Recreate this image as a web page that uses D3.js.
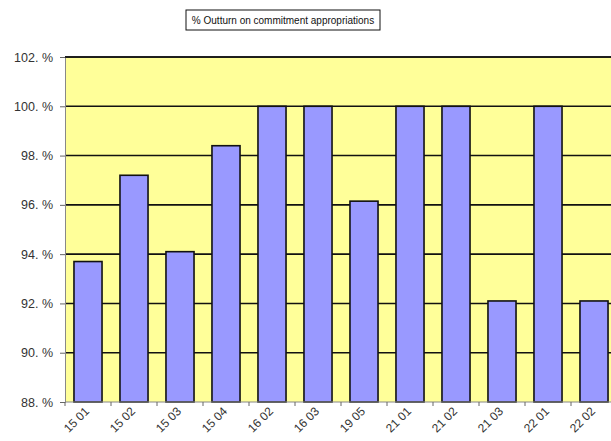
<!DOCTYPE html>
<html>
<head>
<meta charset="utf-8">
<script src="https://cdn.jsdelivr.net/npm/d3@7"></script>
<style>
  html, body { margin: 0; padding: 0; background: #fff; }
  svg { display: block; font-family: "Liberation Sans", Arial, sans-serif; }
</style>
</head>
<body>
<svg id="chart" width="611" height="441"></svg>
<script>
// Budget lines and the share of commitment appropriations used (%)
const categories = ["15 01", "15 02", "15 03", "15 04", "16 02", "16 03", "19 05", "21 01", "21 02", "21 03", "22 01", "22 02"];
const outturn = [93.7, 97.2, 94.1, 98.4, 100.0, 100.0, 96.15, 100.0, 100.0, 92.1, 100.0, 92.1];
const yTicks = [88, 90, 92, 94, 96, 98, 100, 102];
const yTickLabels = ["88. %", "90. %", "92. %", "94. %", "96. %", "98. %", "100. %", "102. %"];
const title = "% Outturn on commitment appropriations";

const svg = d3.select("#chart");
const plot = { left: 65, top: 57, right: 617, bottom: 402 };

const x = d3.scaleBand().domain(categories).range([plot.left, plot.right]).paddingInner(0.39).paddingOuter(0.195);
const y = d3.scaleLinear().domain([88, 102]).range([plot.bottom, plot.top]);

// Plot background
svg.append("rect")
  .attr("x", plot.left).attr("y", plot.top)
  .attr("width", plot.right - plot.left).attr("height", plot.bottom - plot.top)
  .attr("fill", "#ffff99");

// Horizontal gridlines
svg.append("g").selectAll("line")
  .data(yTicks.filter(d => d > 88))
  .join("line")
  .attr("x1", plot.left).attr("x2", plot.right)
  .attr("y1", d => y(d)).attr("y2", d => y(d))
  .attr("stroke", "#111").attr("stroke-width", 1.6);

// Bars
svg.append("g").selectAll("rect")
  .data(categories.map((c, i) => ({ c, v: outturn[i] })))
  .join("rect")
  .attr("x", d => x(d.c))
  .attr("width", x.bandwidth())
  .attr("y", d => y(d.v))
  .attr("height", d => y(88) - y(d.v))
  .attr("fill", "#9999ff")
  .attr("stroke", "#111")
  .attr("stroke-width", 1.6);

// Y axis
const yAxis = d3.axisLeft(y).tickValues(yTicks)
  .tickFormat((d, i) => yTickLabels[i]).tickSize(5).tickPadding(7);
const gy = svg.append("g").attr("transform", `translate(${plot.left},0)`).call(yAxis);
gy.select(".domain").attr("stroke", "#888").attr("stroke-width", 1);
gy.selectAll(".tick line").attr("stroke", "#666");
gy.selectAll(".tick text").attr("fill", "#333").attr("font-size", 12.5);

// X axis: ticks on category boundaries
const bounds = d3.range(categories.length + 1).map(i => plot.left + i * x.step());
svg.append("line")
  .attr("x1", plot.left).attr("x2", plot.right)
  .attr("y1", plot.bottom).attr("y2", plot.bottom)
  .attr("stroke", "#888");
svg.append("g").selectAll("line")
  .data(bounds)
  .join("line")
  .attr("x1", d => d).attr("x2", d => d)
  .attr("y1", plot.bottom).attr("y2", plot.bottom + 4)
  .attr("stroke", "#666");
svg.append("g").selectAll("text")
  .data(categories)
  .join("text")
  .attr("transform", d => `translate(${x(d) + x.bandwidth() / 2 + 2},${plot.bottom + 10}) rotate(-45)`)
  .attr("text-anchor", "end")
  .attr("font-size", 12)
  .attr("fill", "#333")
  .text(d => d);

// Top border of the plot
svg.append("line")
  .attr("x1", plot.left).attr("x2", plot.right)
  .attr("y1", plot.top).attr("y2", plot.top)
  .attr("stroke", "#111").attr("stroke-width", 1.6);

// Title box
const tg = svg.append("g");
tg.append("rect")
  .attr("x", 186).attr("y", 10).attr("width", 194).attr("height", 20)
  .attr("fill", "#fff").attr("stroke", "#111").attr("stroke-width", 1);
tg.append("text")
  .attr("x", 283).attr("y", 24)
  .attr("text-anchor", "middle")
  .attr("font-size", 10)
  .attr("fill", "#111")
  .text(title);
</script>
</body>
</html>
